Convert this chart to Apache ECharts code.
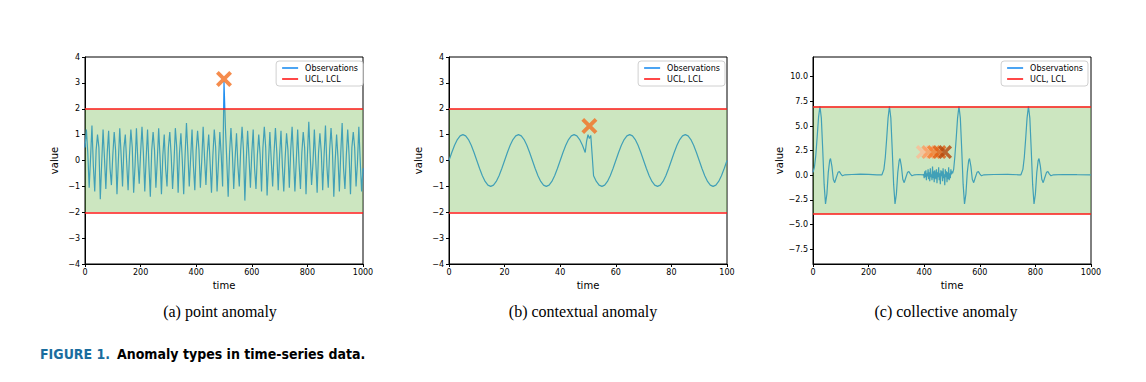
<!DOCTYPE html>
<html><head><meta charset="utf-8">
<script src="https://cdn.jsdelivr.net/npm/echarts@6/dist/echarts.min.js"></script>
<style>html,body{margin:0;padding:0;background:#fff}#c{width:1146px;height:382px}</style>
</head><body><div id="c"></div>
<script>
// ---------- Panel (a): point anomaly (values every 5 time units) ----------
const aStep = 5;
const aValues = [0.5,
 1.2,0.3,-1.05,0.1, 1.35,-0.2,-1.2,0.4, 1.0,0.5,-1.5,-0.1, 1.2,0.1,-1.1,0.3, 1.15,-0.3,-0.95,0.2,
 1.1,0.4,-1.3,0.0, 1.25,0.2,-1.0,0.5, 1.0,-0.1,-1.15,0.2, 1.2,0.5,-1.25,-0.2, 1.25,0.0,-0.9,0.3,
 1.3,0.3,-1.2,0.1, 1.2,-0.2,-1.4,0.4, 1.1,0.4,-1.05,0.0, 1.25,0.1,-1.3,0.2, 1.0,-0.3,-1.0,0.5,
 1.1,0.2,-1.1,-0.1, 1.25,0.5,-1.25,0.3, 1.05,0.0,-1.3,0.2, 1.45,0.3,-1.0,0.1, 1.2,-0.2,-1.15,0.4,
 1.15,0.4,-1.05,0.0, 1.3,0.1,-0.95,0.3, 1.0,-0.1,-1.25,0.2, 1.2,0.5,-1.2,-0.1, 1.1,0.2,-1.0,3.05,
 1.3,0.0,-1.4,0.3, 1.25,0.3,-1.1,0.1, 1.05,-0.2,-1.0,0.4, 1.3,0.4,-1.55,0.0, 1.15,0.1,-1.05,0.3,
 1.2,-0.3,-1.1,0.2, 1.0,0.2,-1.2,0.5, 1.3,0.5,-1.35,-0.1, 1.1,0.0,-1.0,0.3, 1.25,0.3,-1.15,0.2,
 1.15,-0.2,-1.2,0.1, 1.05,0.4,-1.05,0.4, 1.3,0.1,-1.2,0.0, 1.2,-0.1,-1.1,0.3, 1.1,0.5,-1.3,0.2,
 1.5,0.2,-0.95,-0.1, 1.2,0.0,-1.25,0.3, 1.05,0.3,-1.15,0.2, 1.35,-0.2,-1.05,0.4, 1.25,0.4,-1.4,0.0,
 1.0,0.1,-1.2,0.3, 1.45,-0.3,-1.1,0.2, 1.2,0.2,-1.3,0.5, 1.1,0.5,-1.0,-0.1, 1.3,0.0,-1.2,-0.3];
const aAnomaly = [500, 3.15];
const aLimits = [2, -2];

// ---------- Panel (b): contextual anomaly (values every 1 time unit) ----------
const bValues = [
 0,0.31,0.59,0.81,0.95,1,0.95,0.81,0.59,0.31, 0,-0.31,-0.59,-0.81,-0.95,-1,-0.95,-0.81,-0.59,-0.31,
 0,0.31,0.59,0.81,0.95,1,0.95,0.81,0.59,0.31, 0,-0.31,-0.59,-0.81,-0.95,-1,-0.95,-0.81,-0.59,-0.31,
 0,0.31,0.59,0.81,0.95,1,0.95,0.81,0.59,0.31, 1.0,0.97,-0.59,-0.81,-0.95,-1,-0.95,-0.81,-0.59,-0.31,
 0,0.31,0.59,0.81,0.95,1,0.95,0.81,0.59,0.31, 0,-0.31,-0.59,-0.81,-0.95,-1,-0.95,-0.81,-0.59,-0.31,
 0,0.31,0.59,0.81,0.95,1,0.95,0.81,0.59,0.31, 0,-0.31,-0.59,-0.81,-0.95,-1,-0.95,-0.81,-0.59,-0.31, 0];
const bExtra = [[49.5,0.75],[50.5,0.85],[51.5,0.2]];
const bAnomaly = [50.5, 1.33];
const bLimits = [2, -2];

// ---------- Panel (c): collective anomaly ----------
const cObs = [
 [0,0.3],[5,0.8],[10,2.0],[15,3.9],[20,5.9],[25,7.0],[30,5.8],[35,2.6],[40,-0.9],[45,-2.9],[50,-1.9],
 [55,0.3],[60,1.5],[63,1.7],[68,0.9],[73,-0.4],[78,-0.75],[83,-0.3],[90,0.3],[95,0.37],[100,0.15],
 [106,-0.05],[115,0.05],[140,0.08],[170,0.12],[200,0.1],[230,0.05],[248,0.05],
 [255,0.6],[260,1.8],[265,3.7],[270,5.8],[275,7.0],[280,5.8],[285,2.6],[290,-0.9],[295,-2.9],[300,-1.9],
 [305,0.3],[310,1.5],[313,1.7],[318,0.9],[323,-0.4],[328,-0.75],[333,-0.3],[340,0.3],[345,0.37],[350,0.15],
 [356,-0.05],[365,0.05],[380,0.08],[396,0.05],
 [506,0.6],[510,1.8],[515,3.7],[520,5.8],[525,7.0],[530,5.8],[535,2.6],[540,-0.9],[545,-2.9],[550,-1.9],
 [555,0.3],[560,1.5],[563,1.7],[568,0.9],[573,-0.4],[578,-0.75],[583,-0.3],[590,0.3],[595,0.37],[600,0.15],
 [606,-0.05],[615,0.05],[650,0.08],[700,0.1],[740,0.05],[748,0.05],
 [755,0.6],[760,1.8],[765,3.7],[770,5.8],[775,7.0],[780,5.8],[785,2.6],[790,-0.9],[795,-2.9],[800,-1.9],
 [805,0.3],[810,1.5],[813,1.7],[818,0.9],[823,-0.4],[828,-0.75],[833,-0.3],[840,0.3],[845,0.37],[850,0.15],
 [856,-0.05],[865,0.05],[900,0.08],[950,0.06],[1000,0.05]];
const cNoiseStart = 398, cNoiseStep = 2;
const cNoise = [0.1,-0.3,0.4,-0.2,0.5,-0.5,0.2,-0.1,0.6,-0.4,0.3,-0.6,0.7,-0.2,0.1,-0.5,0.9,-0.3,0.4,-0.7,
 0.5,0.0,-0.4,0.6,-0.8,0.3,-0.2,0.8,-0.5,0.2,-0.9,0.5,-0.1,0.4,-0.6,0.7,-0.3,0.1,-1.0,0.6,
 -0.2,0.4,-0.7,0.3,-0.4,0.8,-0.5,0.2,-0.3,0.6,0.1,0.4,0.2];
const cMarkTimes = [395, 415, 435, 455, 475];
const cMarkValue = 2.35;
const cMarkColors = ['#fdbb94', '#fc9a5c', '#f57a2c', '#e05d10', '#b4460a'];
const cLimits = [7, -3.95];
const cTicks = [-7.5, -5, -2.5, 0, 2.5, 5, 7.5, 10];

const captions = ['(a) point anomaly', '(b) contextual anomaly', '(c) collective anomaly'];
const figLabel = 'FIGURE 1.';
const figText = 'Anomaly types in time-series data.';

// ---------- build ----------
const aData = aValues.map((v, i) => [i * aStep, v]);
const bData = bValues.map((v, i) => [i, v]).concat(bExtra).sort((p, q) => p[0] - q[0]);
const cData = cObs.concat(cNoise.map((v, i) => [cNoiseStart + i * cNoiseStep, v])).sort((p, q) => p[0] - q[0]);

const BLUE = '#1f8ef0', RED = '#ff1a1a', ORANGE = '#f36f21';
const BAND = 'rgba(120,190,90,0.38)';
const XPATH = 'path://M0,17L17,0L50,33L83,0L100,17L67,50L100,83L83,100L50,67L17,100L0,83L33,50Z';
const FONT = 'DejaVu Sans';
const minus = s => String(s).replace('-', '\u2212');

const grids = [
  {left: 85, top: 57, width: 278, height: 207},
  {left: 449, top: 57, width: 278, height: 207},
  {left: 813, top: 57, width: 278, height: 207}
].map(g => Object.assign(g, {show: true, borderColor: '#000', borderWidth: 1, backgroundColor: 'transparent'}));

function xAx(i, max, interval) {
  return {gridIndex: i, type: 'value', min: 0, max: max, interval: interval,
    axisLine: {show: true, onZero: false, lineStyle: {color: '#000', width: 1}},
    axisTick: {show: true, length: 3, lineStyle: {color: '#000'}},
    axisLabel: {fontSize: 8, color: '#000', margin: 4, fontFamily: FONT, formatter: v => String(v)},
    splitLine: {show: false},
    name: 'time', nameLocation: 'middle', nameGap: 13,
    nameTextStyle: {fontSize: 10, color: '#000', fontFamily: FONT}};
}
function yAx(i, min, max, interval, ticks, fmt, gap) {
  const ax = {gridIndex: i, type: 'value', min: min, max: max,
    axisLine: {show: true, onZero: false, lineStyle: {color: '#000', width: 1}},
    axisTick: {show: true, length: 3, lineStyle: {color: '#000'}},
    axisLabel: {fontSize: 8, color: '#000', margin: 5, fontFamily: FONT, formatter: fmt},
    splitLine: {show: false},
    name: 'value', nameLocation: 'middle', nameGap: gap, nameRotate: 90,
    nameTextStyle: {fontSize: 10, color: '#000', fontFamily: FONT}};
  if (ticks) { ax.axisLabel.customValues = ticks; ax.axisTick.customValues = ticks; }
  else ax.interval = interval;
  return ax;
}

const series = [];
function panel(i, data, limits, anomalies) {
  series.push({name: 'Observations', type: 'line', xAxisIndex: i, yAxisIndex: i, data: data,
    showSymbol: false, symbol: 'none', color: BLUE, lineStyle: {color: BLUE, width: 1.2}, z: 2, animation: false});
  series.push({type: 'line', xAxisIndex: i, yAxisIndex: i, data: [], z: 3, animation: false,
    markArea: {z: 3, silent: true, itemStyle: {color: BAND}, data: [[{yAxis: limits[1]}, {yAxis: limits[0]}]]}});
  series.push({name: 'UCL, LCL', type: 'line', xAxisIndex: i, yAxisIndex: i, data: [], z: 4, color: RED, animation: false,
    markLine: {z: 4, silent: true, symbol: ['none', 'none'], label: {show: false},
      lineStyle: {color: RED, width: 1.6, type: 'solid'}, data: [{yAxis: limits[0]}, {yAxis: limits[1]}]}});
  series.push({type: 'scatter', xAxisIndex: i, yAxisIndex: i, z: 6, animation: false, symbol: XPATH,
    data: anomalies});
}
panel(0, aData, aLimits, [{value: aAnomaly, symbolSize: 16, itemStyle: {color: ORANGE}}]);
panel(1, bData, bLimits, [{value: bAnomaly, symbolSize: 16, itemStyle: {color: ORANGE}}]);
panel(2, cData, cLimits, cMarkTimes.map((t, k) => ({value: [t, cMarkValue], symbolSize: 14, itemStyle: {color: cMarkColors[k]}})));

function legend(right) {
  return {right: right, top: 61, orient: 'vertical', itemWidth: 16, itemHeight: 1.6, itemGap: 3,
    padding: [3, 5, 3, 6], borderColor: '#d0d0d0', borderWidth: 1, borderRadius: 3, z: 8,
    backgroundColor: 'rgba(255,255,255,0.85)', selectedMode: false,
    textStyle: {fontSize: 8, lineHeight: 8, color: '#000', fontFamily: FONT, padding: [0, 0, 0, 2]},
    data: [{name: 'Observations', icon: 'rect'}, {name: 'UCL, LCL', icon: 'rect'}]};
}

const capText = (t, x) => ({type: 'text', x: x, y: 311, style: {text: t, fill: '#000',
  font: '16px "Liberation Serif", "Times New Roman", serif', align: 'center', verticalAlign: 'middle'}});

const option = {
  animation: false,
  grid: grids,
  xAxis: [xAx(0, 1000, 200), xAx(1, 100, 20), xAx(2, 1000, 200)],
  yAxis: [yAx(0, -4, 4, 1, null, v => minus(v), 26), yAx(1, -4, 4, 1, null, v => minus(v), 26),
          yAx(2, -9, 12, null, cTicks, v => minus(Number(v).toFixed(1)), 27)],
  legend: [legend(783), legend(421), legend(58)],
  series: series,
  graphic: [
    capText(captions[0], 220), capText(captions[1], 583), capText(captions[2], 946),
    {type: 'text', x: 40, y: 354, style: {text: figLabel, fill: '#1a6d9e',
      font: 'bold 14px "Liberation Sans Narrow", "DejaVu Sans Condensed", sans-serif', verticalAlign: 'middle'}},
    {type: 'text', x: 117, y: 354, style: {text: figText, fill: '#000',
      font: 'bold 14px "Liberation Sans Narrow", "DejaVu Sans Condensed", sans-serif', verticalAlign: 'middle'}}
  ]
};
const chart = echarts.init(document.getElementById('c'), null, {renderer: 'svg'});
chart.setOption(option);
</script></body></html>
